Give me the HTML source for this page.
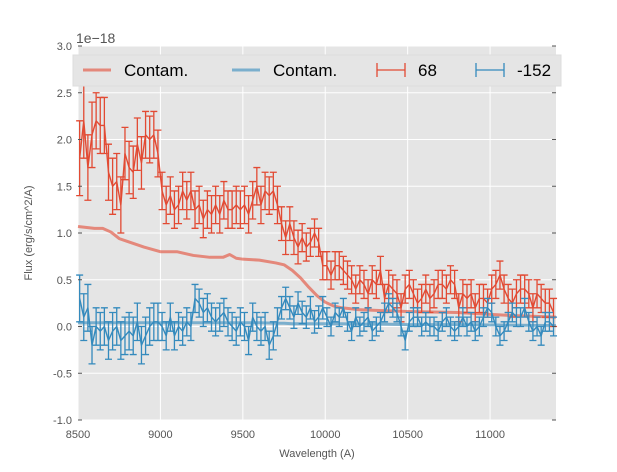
<!DOCTYPE html>
<html><head><meta charset="utf-8"><style>
body{margin:0;background:#fff;font-family:"Liberation Sans","DejaVu Sans",sans-serif}
svg text{font-family:"Liberation Sans","DejaVu Sans",sans-serif}
</style></head><body>
<svg id="chart" width="617" height="467" viewBox="0 0 617 467" xmlns="http://www.w3.org/2000/svg">
<rect x="78" y="46" width="478" height="374" fill="#e5e5e5"/>
<g id="grid"></g><g id="marks"></g><g id="axes"></g>
<text x="76" y="43" font-size="14" fill="#555">1e−18</text>
<text x="317" y="457" font-size="11" fill="#555" text-anchor="middle">Wavelength (A)</text>
<text transform="translate(32,233) rotate(-90)" font-size="11" fill="#555" text-anchor="middle">Flux (erg/s/cm^2/A)</text>
<g id="legend">
<rect x="73" y="55" width="488" height="31" fill="#e5e5e5" stroke="#ddd"/>
</g>
</svg>
<script>
const xTicks=[8500,9000,9500,10000,10500,11000];
const yTicks=[-1.0,-0.5,0.0,0.5,1.0,1.5,2.0,2.5,3.0];
const lamStart=8510, lamStep=25;
const redFlux=[1.8,2.2,1.7,2.05,2.2,2.15,2.15,1.65,1.5,1.55,1.3,1.85,1.7,1.65,1.95,1.75,2.05,2.0,2.05,1.85,1.45,1.3,1.4,1.25,1.3,1.45,1.35,1.45,1.25,1.3,1.15,1.25,1.2,1.3,1.2,1.35,1.25,1.25,1.3,1.25,1.3,1.2,1.35,1.5,1.3,1.45,1.4,1.45,1.3,1.1,0.95,1.1,0.95,0.85,0.95,0.85,0.9,1.0,0.9,0.65,0.65,0.55,0.65,0.65,0.6,0.55,0.5,0.4,0.5,0.45,0.35,0.5,0.45,0.6,0.3,0.45,0.4,0.35,0.2,0.4,0.45,0.35,0.25,0.3,0.4,0.3,0.35,0.45,0.45,0.4,0.5,0.45,0.2,0.35,0.3,0.35,0.2,0.3,0.3,0.25,0.4,0.45,0.55,0.4,0.3,0.25,0.35,0.4,0.4,0.35,0.2,0.35,0.3,0.25,0.25,0.15];
const redErr=[0.4,0.4,0.35,0.35,0.3,0.3,0.3,0.3,0.3,0.3,0.3,0.28,0.28,0.28,0.28,0.28,0.25,0.25,0.25,0.25,0.2,0.2,0.2,0.2,0.2,0.2,0.2,0.2,0.2,0.2,0.2,0.2,0.2,0.2,0.2,0.2,0.2,0.2,0.2,0.2,0.2,0.2,0.2,0.2,0.2,0.2,0.2,0.2,0.2,0.18,0.18,0.18,0.18,0.18,0.15,0.15,0.15,0.15,0.15,0.15,0.15,0.15,0.15,0.15,0.15,0.15,0.15,0.15,0.15,0.15,0.15,0.15,0.15,0.15,0.15,0.15,0.15,0.15,0.15,0.15,0.15,0.15,0.15,0.15,0.15,0.15,0.15,0.15,0.15,0.15,0.15,0.15,0.15,0.15,0.15,0.15,0.15,0.15,0.15,0.15,0.15,0.15,0.15,0.15,0.15,0.15,0.15,0.15,0.15,0.15,0.15,0.15,0.15,0.15,0.15,0.15];
const blueFlux=[0.3,0.1,0.2,-0.2,0.0,-0.05,0.0,-0.15,-0.05,0.0,-0.15,-0.1,-0.05,-0.1,0.05,-0.2,-0.1,0.0,0.05,0.05,0.0,-0.1,0.1,-0.1,0.0,-0.05,0.05,0.0,0.3,0.25,0.15,0.2,0.1,0.05,0.1,0.15,0.05,0.0,-0.05,0.05,0.0,-0.15,0.1,0.0,-0.05,0.0,-0.2,-0.1,0.05,0.2,0.3,0.2,0.1,0.25,0.15,0.1,0.2,0.05,0.1,0.2,0.1,0.0,0.15,0.1,0.2,0.05,-0.05,0.1,0.0,0.05,0.1,-0.05,0.0,0.05,0.15,0.25,0.2,0.15,0.0,-0.15,0.05,0.1,0.1,0.0,0.05,0.0,0.0,-0.05,0.05,0.1,0.0,-0.05,0.0,0.1,0.0,0.05,-0.05,0.0,0.1,0.2,0.15,0.0,-0.1,-0.05,0.05,0.15,0.1,0.1,0.2,0.05,-0.05,0.0,-0.1,0.05,0.05,0.0,0.15];
const blueErr=[0.25,0.25,0.25,0.2,0.2,0.2,0.2,0.2,0.2,0.2,0.2,0.2,0.2,0.2,0.2,0.2,0.2,0.2,0.2,0.2,0.15,0.15,0.15,0.15,0.15,0.15,0.15,0.15,0.15,0.15,0.15,0.15,0.15,0.15,0.15,0.15,0.15,0.15,0.15,0.15,0.15,0.15,0.15,0.15,0.15,0.15,0.15,0.15,0.15,0.12,0.12,0.12,0.12,0.12,0.12,0.12,0.12,0.12,0.12,0.12,0.1,0.1,0.1,0.1,0.1,0.1,0.1,0.1,0.1,0.1,0.1,0.1,0.1,0.1,0.1,0.1,0.1,0.1,0.1,0.1,0.1,0.1,0.1,0.1,0.1,0.1,0.1,0.1,0.1,0.1,0.1,0.1,0.1,0.1,0.1,0.1,0.1,0.1,0.1,0.1,0.1,0.1,0.1,0.1,0.1,0.1,0.1,0.1,0.1,0.1,0.1,0.1,0.1,0.1,0.1,0.1];
const contamLam=[8500,8600,8650,8700,8750,8800,8900,9000,9100,9200,9300,9380,9420,9460,9500,9600,9700,9750,9800,9850,9900,9950,10000,10050,10100,10200,10350,10500,10800,11100,11400];
const redContam=[1.07,1.05,1.05,1.01,0.94,0.91,0.85,0.8,0.8,0.76,0.74,0.74,0.77,0.73,0.72,0.71,0.68,0.66,0.6,0.52,0.42,0.33,0.26,0.22,0.2,0.18,0.17,0.16,0.15,0.12,0.1];
const blueContam=[0.04,0.04,0.04,0.04,0.04,0.04,0.04,0.04,0.04,0.04,0.04,0.04,0.04,0.04,0.04,0.04,0.035,0.035,0.03,0.03,0.03,0.03,0.03,0.03,0.03,0.025,0.025,0.02,0.02,0.015,0.01];
const NS='http://www.w3.org/2000/svg';
const X=v=>78+(v-8500)*478/2900, Y=v=>420-(v+1)*374/4;
function mk(p,t,a){const e=document.createElementNS(NS,t);for(const k in a)e.setAttribute(k,a[k]);document.getElementById(p).appendChild(e);return e;}
xTicks.forEach(t=>{const l=mk('grid','line',{x1:X(t),x2:X(t),y1:46,y2:420,stroke:'#fff','stroke-width':1});

const tx=mk('axes','text',{x:X(t),y:438,'font-size':11,fill:'#555','text-anchor':'middle'});tx.textContent=t;
});
yTicks.forEach(t=>{const l=mk('grid','line',{x1:78,x2:556,y1:Y(t),y2:Y(t),stroke:'#fff','stroke-width':1});

mk('axes','line',{x1:78,x2:82,y1:Y(t),y2:Y(t),stroke:'#555'});mk('axes','line',{x1:552,x2:556,y1:Y(t),y2:Y(t),stroke:'#555'});
const tx=mk('axes','text',{x:72,y:Y(t)+4,'font-size':11,fill:'#555','text-anchor':'end'});tx.textContent=t.toFixed(1);
});
function line(lams,vals,col,w,op,name){const p=mk('marks','polyline',{points:vals.map((v,i)=>X(lams[i])+','+Y(v)).join(' '),fill:'none',stroke:col,'stroke-width':w,'stroke-opacity':op,'stroke-linejoin':'round'});
}
const lams=redFlux.map((_,i)=>lamStart+i*lamStep);
line(contamLam,redContam,'#E24A33',3,0.6,'red-contam-line');
line(contamLam,blueContam,'#348ABD',3,0.6,'blue-contam-line');
function errs(vals,er,col,name){vals.forEach((v,i)=>{const x=X(lams[i]),y1=Y(v-er[i]),y2=Y(v+er[i]);
const g=mk('marks','path',{d:`M${x},${y1}V${y2}M${x-3.5},${y1}h7M${x-3.5},${y2}h7`,stroke:col,'stroke-width':1.3,fill:'none'});
});
line(lams,vals,col,1.4,1,name+'-line');}
errs(redFlux,redErr,'#E24A33','red-errorbar');
errs(blueFlux,blueErr,'#348ABD','blue-errorbar');
function leg(x,col,label,bar,op){if(bar){mk('legend','path',{d:`M${x},70h28M${x},63v14M${x+28},63v14`,stroke:col,'stroke-width':1.3,fill:'none'});}
else mk('legend','line',{x1:x,x2:x+28,y1:70,y2:70,stroke:col,'stroke-width':3,'stroke-opacity':op});
const t=mk('legend','text',{x:x+41,y:76,'font-size':17,fill:'#000'});t.textContent=label;
}
leg(83,'#E24A33','Contam.',false,0.6);leg(232,'#348ABD','Contam.',false,0.6);leg(377,'#E24A33','68',true,1);leg(476,'#348ABD','-152',true,1);
</script>
</body></html>
